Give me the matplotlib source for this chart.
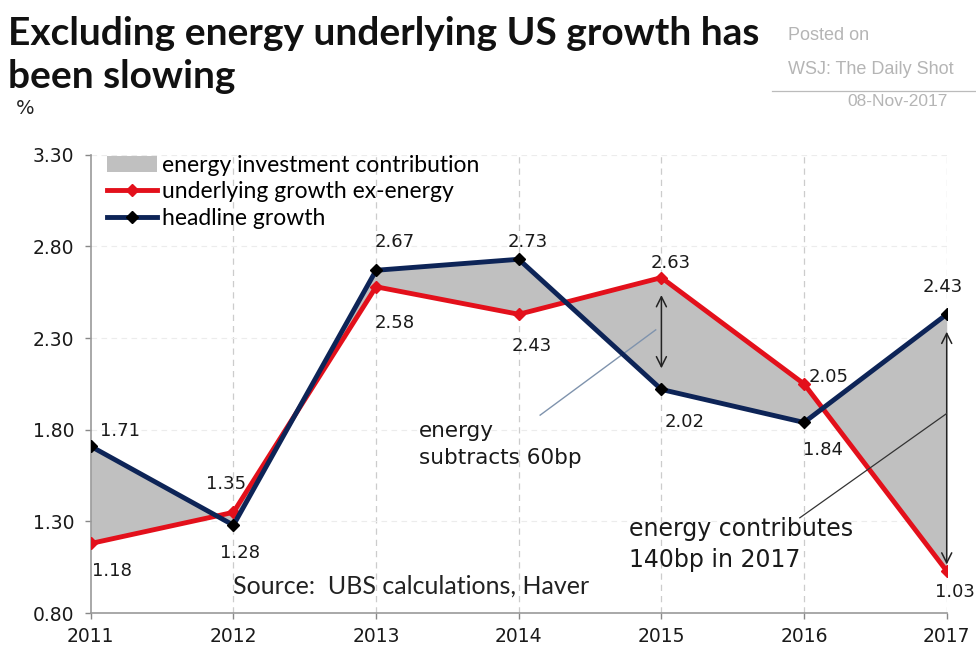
import matplotlib.pyplot as plt
import numpy as np

years = [2011, 2012, 2013, 2014, 2015, 2016, 2017]
headline = [1.71, 1.28, 2.67, 2.73, 2.02, 1.84, 2.43]
underlying = [1.18, 1.35, 2.58, 2.43, 2.63, 2.05, 1.03]
yticks = [0.80, 1.30, 1.80, 2.30, 2.80, 3.30]

# label centre offsets from each point, in pixels (dx, dy)
head_offs = [(29, 15), (7, -28), (19, 28), (9, 17), (23, -33), (19, -28), (-4, 27)]
under_offs = [(21, -28), (-7, 28), (19, -36), (13, -32), (9, 15), (25, 7), (8, -21)]

RED = '#e3101b'
NAVY = '#0d2457'
FILL = '#c0c0c0'
DARK = '#1a1a1a'

plt.rcParams['font.family'] = ['Lato', 'DejaVu Sans']

fig = plt.figure(figsize=(9.76, 6.53), dpi=100)
ax = fig.add_axes([0.093, 0.061, 0.877, 0.702])

x = np.array(years)
ax.fill_between(x, headline, underlying, color=FILL, lw=0, zorder=1,
                label='energy investment contribution')
ax.plot(x, underlying, color=RED, lw=3.5, marker='D', ms=6, mfc=RED, mec=RED,
        zorder=3, label='underlying growth ex-energy')
ax.plot(x, headline, color=NAVY, lw=3.5, marker='D', ms=6, mfc='black', mec='black',
        zorder=4, label='headline growth')

ax.set_xlim(2011, 2017)
ax.set_ylim(0.80, 3.30)
ax.set_yticks(yticks)
ax.set_yticklabels(['%.2f' % v for v in yticks], family='DejaVu Sans', fontsize=13.5)
ax.set_xticks(years)
ax.set_xticklabels([str(y) for y in years], family='DejaVu Sans', fontsize=13.5)
ax.tick_params(axis='both', color='#888888', length=4, width=1, labelcolor=DARK)
ax.tick_params(axis='y', pad=8)
ax.tick_params(axis='x', pad=6)

for s in ['top', 'right']:
    ax.spines[s].set_visible(False)
for s in ['left', 'bottom']:
    ax.spines[s].set_color('#999999')
    ax.spines[s].set_linewidth(1.2)

for yr in years[1:]:
    ax.axvline(yr, color='#cccccc', lw=0.9, ls=(0, (5, 4)), zorder=0)
for v in yticks[1:]:
    ax.axhline(v, color='#ececec', lw=0.8, ls=(0, (5, 4)), zorder=0)

# value labels
for vals, offs in [(headline, head_offs), (underlying, under_offs)]:
    for xv, yv, (dx, dy) in zip(years, vals, offs):
        ax.annotate('%.2f' % yv, (xv, yv), xytext=(dx, dy), textcoords='offset pixels',
                    ha='center', va='center', fontsize=13, family='DejaVu Sans',
                    color=DARK, zorder=6, annotation_clip=False)

# 2015: energy pulls growth down
ax.annotate('', xy=(2015, 2.12), xytext=(2015, 2.55),
            arrowprops=dict(arrowstyle='<->', color='#222222', lw=1.1,
                            mutation_scale=18))
ax.plot([2014.15, 2014.96], [1.88, 2.345], color='#7f93ad', lw=1, zorder=2)
ax.text(2013.30, 1.72, 'energy\nsubtracts 60bp', fontsize=15.5, color=DARK,
        family='DejaVu Sans', linespacing=1.4, va='center', ha='left')

# 2017: energy pushes growth up
ax.annotate('', xy=(2017, 1.05), xytext=(2017, 2.35),
            arrowprops=dict(arrowstyle='<->', color='#222222', lw=1.1,
                            mutation_scale=18))
ax.plot([2015.97, 2017.02], [1.32, 1.90], color='#333333', lw=0.9, zorder=5)
ax.text(2014.77, 1.175, 'energy contributes\n140bp in 2017', fontsize=17,
        color=DARK, family='DejaVu Sans', linespacing=1.4, va='center', ha='left')

ax.text(2012.0, 0.95, 'Source:  UBS calculations, Haver', fontsize=18,
        color='#222222', ha='left', va='center')

ax.legend(loc='upper left', bbox_to_anchor=(0.0, 1.035), frameon=False,
          fontsize=16.5, handlelength=2.2, handletextpad=0.2,
          labelspacing=0.25, borderaxespad=0.3)

fig.text(0.008, 1 - 45 / 653, 'Excluding energy underlying US growth has',
         fontsize=28, fontweight='bold', color='#111111', ha='left', va='baseline')
fig.text(0.008, 1 - 88 / 653, 'been slowing',
         fontsize=28, fontweight='bold', color='#111111', ha='left', va='baseline')
fig.text(0.016, 1 - 108 / 653, '%', fontsize=14, color='#222222', ha='left',
         va='center', family='DejaVu Sans')

fig.text(788 / 976, 1 - 35 / 653, 'Posted on', fontsize=13, color='#b5b5b5',
         ha='left', va='center', family='Liberation Sans')
fig.text(788 / 976, 1 - 70 / 653, 'WSJ: The Daily Shot', fontsize=13, color='#b5b5b5',
         ha='left', va='center', family='Liberation Sans')
fig.add_artist(plt.Line2D([772 / 976, 1.0], [1 - 91 / 653, 1 - 91 / 653],
                          color='#bbbbbb', lw=0.9))
fig.text(948 / 976, 1 - 102 / 653, '08-Nov-2017', fontsize=12.5, color='#b5b5b5',
         ha='right', va='center', family='Liberation Sans')

fig.savefig('out.png', dpi=100)
